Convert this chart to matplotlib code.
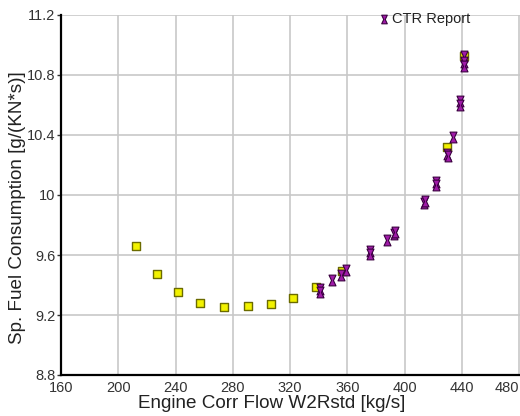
import matplotlib
matplotlib.use("Agg")
import matplotlib.pyplot as plt
from matplotlib.path import Path
import numpy as np

plt.rcParams['font.family'] = ['Liberation Sans', 'DejaVu Sans']

# Yellow squares (model series)
model_x = [212.4, 227.1, 241.6, 257.4, 274.0, 290.6, 306.4, 322.0, 338.3, 356.3, 429.7, 441.8]
model_y = [9.663, 9.474, 9.352, 9.281, 9.252, 9.257, 9.276, 9.315, 9.389, 9.491, 10.323, 10.93]

# Purple CTR Report points
ctr_x = [340.6, 340.9, 349.3, 355.8, 359.3, 376.1, 376.1, 387.8, 392.4, 393.6,
         413.4, 414.5, 422.2, 422.2, 429.7, 430.5, 433.9, 438.5, 438.5, 441.8, 441.8, 441.8]
ctr_y = [9.372, 9.355, 9.433, 9.470, 9.502, 9.628, 9.605, 9.700, 9.741, 9.752,
         9.945, 9.962, 10.085, 10.070, 10.275, 10.260, 10.386, 10.625, 10.603, 10.925, 10.890, 10.862]

x_ticks = [160, 200, 240, 280, 320, 360, 400, 440, 480]
y_ticks = [8.8, 9.2, 9.6, 10.0, 10.4, 10.8, 11.2]
y_tick_labels = ["8.8", "9.2", "9.6", "10", "10.4", "10.8", "11.2"]

# hourglass marker
hg = Path([(-0.65, 1), (0.65, 1), (0.18, 0), (0.65, -1), (-0.65, -1), (-0.18, 0), (-0.65, 1)],
          [Path.MOVETO, Path.LINETO, Path.LINETO, Path.LINETO, Path.LINETO, Path.LINETO, Path.CLOSEPOLY])

fig = plt.figure(figsize=(5.2, 4.16), dpi=100)
ax = fig.add_axes([61/520, (416-375)/416, (519-61)/520 + 1/520, 360/416])

ax.scatter(model_x, model_y, marker='s', s=28, facecolor='#f2f200', edgecolor='#6b6b00',
           linewidths=1.0, zorder=3)
ax.scatter(ctr_x, ctr_y, marker=hg, s=60, facecolor='#a01aa8', edgecolor='#3a0040',
           linewidths=0.8, zorder=4, label='CTR Report')

ax.set_xlim(160, 480.6)
ax.set_ylim(8.8, 11.2)
ax.set_xticks(x_ticks)
ax.set_yticks(y_ticks)
ax.set_yticklabels(y_tick_labels)
ax.tick_params(axis='both', labelsize=10.5, colors='#333333', length=3, width=1, pad=1)
ax.tick_params(axis='x', length=0, pad=4)
xlabels = ax.get_xticklabels()
xlabels[-1].set_horizontalalignment('right')

ax.grid(True, color='#c8c8c8', linewidth=1.2)
ax.set_axisbelow(True)
for s in ['top', 'right']:
    ax.spines[s].set_visible(False)
for s in ['left', 'bottom']:
    ax.spines[s].set_color('black')
    ax.spines[s].set_linewidth(1.6)

ax.set_xlabel('Engine Corr Flow W2Rstd [kg/s]', fontsize=13.6, color='#222222')
ax.xaxis.set_label_coords(0.458, -0.056)
ax.set_ylabel('Sp. Fuel Consumption [g/(KN*s)]', fontsize=13.6, color='#222222')
ax.yaxis.set_label_coords(-0.076, 0.464)

leg = ax.legend(loc='center left', bbox_to_anchor=(0.69, 0.99), frameon=False,
                fontsize=10.5, handlelength=0.8, handletextpad=0.2, borderpad=0,
                borderaxespad=0, markerscale=0.8)
for t in leg.get_texts():
    t.set_color('#222222')

fig.savefig('out.png', dpi=100, facecolor='white')
